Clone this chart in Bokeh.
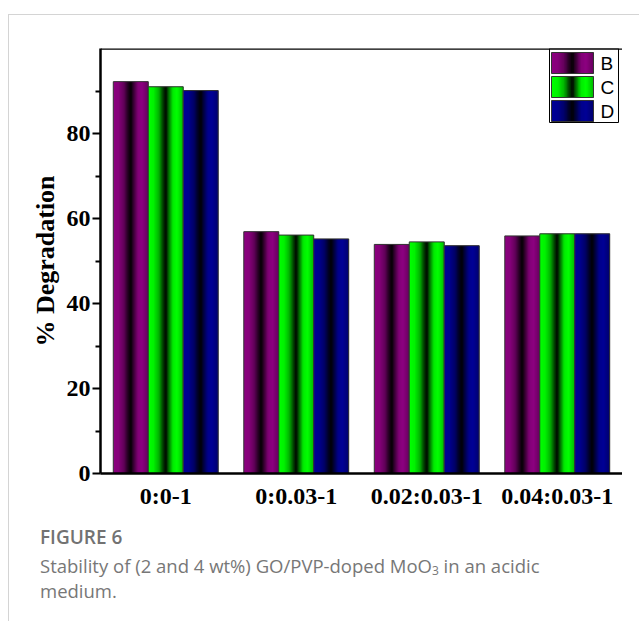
import numpy as np
from bokeh.plotting import figure
from bokeh.models import FixedTicker, Span, Div, Range1d, ColumnDataSource
from bokeh.layouts import column, row
from bokeh.core.properties import value
from bokeh.embed import file_html
from bokeh.resources import INLINE

# ---------------- data ----------------
categories = ["0:0-1", "0:0.03-1", "0.02:0.03-1", "0.04:0.03-1"]
series = ["B", "C", "D"]
vals_B = [92.2, 56.9, 53.9, 55.9]
vals_C = [91.0, 56.1, 54.5, 56.4]
vals_D = [90.1, 55.2, 53.6, 56.4]
y_ticks = [0, 20, 40, 60, 80]
y_minor = [10, 30, 50, 70, 90]

series_vals = {"B": vals_B, "C": vals_C, "D": vals_D}
base_colors = {"B": (140, 0, 128), "C": (0, 255, 0), "D": (0, 0, 150)}

# ---------------- layout constants ----------------
FIG_W, FIG_H = 613, 500
CAP_H = 92
BL, BT, BB, BR = 91, 33, 42, 0
X0, X1 = 0.5, len(categories) + 0.5
Y0, Y1 = 0, 100
FW = FIG_W - BL - BR
FH = FIG_H - BT - BB
BAR_W = 0.268
N_STRIP = 30

# cylinder-like shading profile across a bar (0 = left edge, 1 = right edge)
prof_t = [0.0, 0.15, 0.30, 0.42, 0.50, 0.58, 0.70, 0.82, 0.92, 1.0]
prof_f = [1.0, 0.95, 0.70, 0.25, 0.02, 0.40, 0.92, 1.0, 0.85, 0.72]


def shade(rgb, f):
    r, g, b = [int(max(0, min(255, round(c * f)))) for c in rgb]
    return "#%02x%02x%02x" % (r, g, b)


def px_x(px):  # frame-relative pixel -> data x
    return X0 + px / FW * (X1 - X0)


def px_y(py):  # frame-relative pixel from top -> data y
    return Y1 - py / FH * (Y1 - Y0)


def strips(left, right, n):
    """overlapping strip edges + colour positions (0..1) for a shaded box"""
    w = (right - left) / n
    ls = [left + k * w for k in range(n)]
    rs = [min(left + (k + 2) * w, right) for k in range(n)]
    ts = [(k + 0.5) / n for k in range(n)]
    return ls, rs, ts


p = figure(width=FIG_W, height=FIG_H, x_range=Range1d(X0, X1), y_range=Range1d(Y0, Y1),
           output_backend="svg", toolbar_location=None,
           min_border_left=BL, min_border_top=BT, min_border_bottom=BB, min_border_right=BR)
p.outline_line_color = None
p.xgrid.visible = False
p.ygrid.visible = False
p.background_fill_color = "white"
p.border_fill_color = "white"

# ---------------- bars with gradient strips ----------------
offsets = {"B": -BAR_W, "C": 0.0, "D": BAR_W}
for s in series:
    L, R, T, C = [], [], [], []
    for i, v in enumerate(series_vals[s]):
        c = i + 1 + offsets[s]
        ls, rs, ts = strips(c - BAR_W / 2, c + BAR_W / 2, N_STRIP)
        L += ls
        R += rs
        T += [v] * N_STRIP
        C += [shade(base_colors[s], np.interp(t, prof_t, prof_f)) for t in ts]
    src = ColumnDataSource(dict(left=L, right=R, top=T, color=C))
    p.quad(left="left", right="right", top="top", bottom=0, source=src,
           fill_color="color", line_color=None)
    # outline
    p.vbar(x=[i + 1 + offsets[s] for i in range(len(categories))], top=series_vals[s],
           bottom=0, width=BAR_W, fill_color=None, line_color="#333333", line_width=1)

# top frame line
p.add_layout(Span(location=Y1, dimension="width", line_color="black", line_width=2.5))

# ---------------- axes ----------------
yax = p.yaxis[0]
yax.ticker = FixedTicker(ticks=y_ticks, minor_ticks=y_minor)
yax.axis_label = "% Degradation"
yax.axis_label_text_font = "Liberation Serif"
yax.axis_label_text_font_style = "bold"
yax.axis_label_text_font_size = "26px"
yax.axis_label_text_color = "black"
yax.axis_label_standoff = 4
yax.major_label_text_font = "Liberation Serif"
yax.major_label_text_font_style = "bold"
yax.major_label_text_font_size = "24px"
yax.major_label_text_color = "black"
yax.major_label_standoff = 2
yax.axis_line_width = 2.5
yax.major_tick_line_width = 2
yax.minor_tick_line_width = 2
yax.major_tick_out = 8
yax.major_tick_in = 0
yax.minor_tick_out = 5
yax.minor_tick_in = 0
yax.axis_line_color = "black"
yax.major_tick_line_color = "black"
yax.minor_tick_line_color = "black"

xax = p.xaxis[0]
xax.ticker = FixedTicker(ticks=list(range(1, len(categories) + 1)))
xax.major_label_overrides = {i + 1: c for i, c in enumerate(categories)}
xax.major_label_text_font = "Liberation Serif"
xax.major_label_text_font_style = "bold"
xax.major_label_text_font_size = "24px"
xax.major_label_text_color = "black"
xax.major_label_standoff = 3
xax.axis_line_width = 2.5
xax.axis_line_color = "black"
xax.major_tick_line_color = None
xax.minor_tick_line_color = None

# ---------------- legend (drawn manually to keep gradient swatches) ----------------
LG_L, LG_R, LG_T, LG_B = 449, 518, 0, 74
p.quad(left=[px_x(LG_L)], right=[px_x(LG_R)], top=[px_y(LG_T)], bottom=[px_y(LG_B)],
       fill_color="white", line_color="black", line_width=1)
SW_L, SW_R, SW_H, SW_T0, SW_STEP = 451, 493, 21, 4, 24
for j, s in enumerate(series):
    top_px = SW_T0 + j * SW_STEP
    ls, rs, ts = strips(px_x(SW_L), px_x(SW_R), N_STRIP)
    cols = [shade(base_colors[s], np.interp(t, prof_t, prof_f)) for t in ts]
    p.quad(left=ls, right=rs, top=[px_y(top_px)] * N_STRIP,
           bottom=[px_y(top_px + SW_H)] * N_STRIP, fill_color=cols, line_color=None)
    p.quad(left=[px_x(SW_L)], right=[px_x(SW_R)], top=[px_y(top_px)], bottom=[px_y(top_px + SW_H)],
           fill_color=None, line_color="#333333", line_width=1)
    p.text(x=[px_x(SW_R + 7)], y=[px_y(top_px + SW_H / 2)], text=[s],
           text_font=value("Liberation Sans"), text_font_size="19px",
           text_baseline="middle", text_align="left", text_color="black")

# ---------------- caption ----------------
cap = Div(text=(
    "<div style=\"font-family:'Open Sans',sans-serif;color:#727272;padding-left:31px;\">"
    "<div style=\"font-size:19px;font-weight:600;line-height:26px;margin-top:9px;\">FIGURE 6</div>"
    "<div style=\"font-size:18.5px;line-height:25px;margin-top:3px;color:#777777;\">"
    "Stability of (2 and 4 wt%) GO/PVP-doped MoO"
    "<span style=\"font-size:12px;line-height:0;vertical-align:-0.2em;\">3</span>"
    " in an acidic<br>medium.</div></div>"),
    width=600, height=CAP_H, margin=0)

# light gray page frame (top and left rules of the figure panel)
hline = Div(text="", width=631, height=1, margin=0, styles={"background-color": "#d4d4d4"})
vline = Div(text="<div style=\"width:1px;height:%dpx;background:#d4d4d4;\"></div>" % (FIG_H + CAP_H + 20),
            width=1, height=FIG_H + CAP_H, margin=0)

layout = column(hline, row(vline, column(p, cap, margin=0), margin=0), margin=(14, 0, 0, 8))

open("out.html", "w").write(file_html(layout, INLINE))
